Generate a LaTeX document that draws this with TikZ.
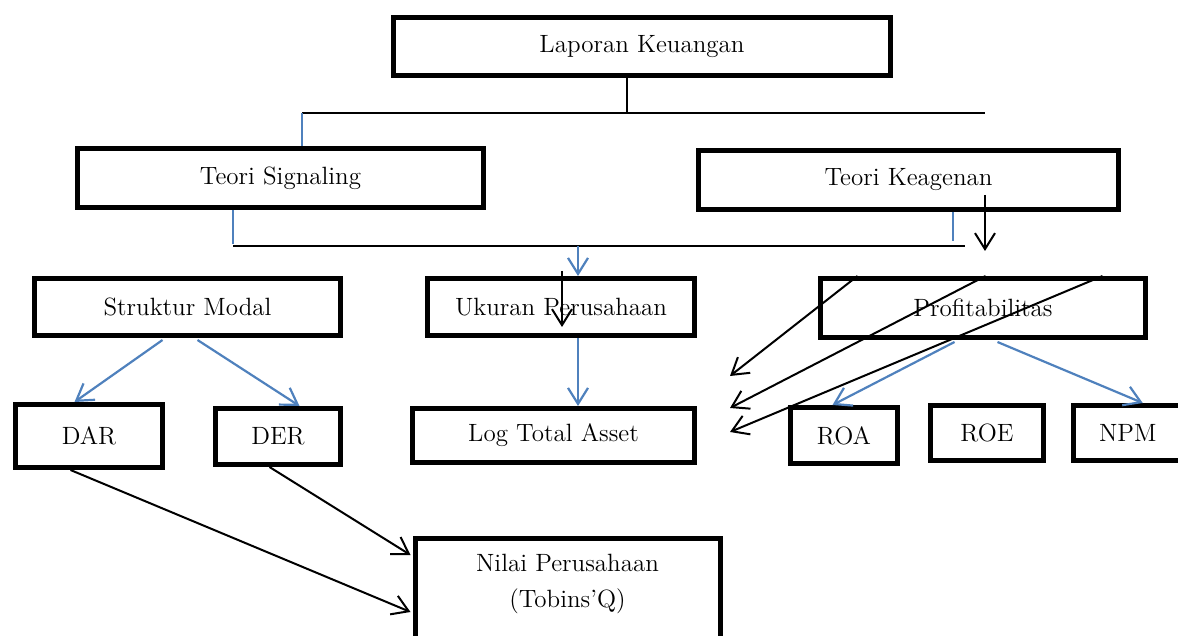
\documentclass[tikz,border=0pt]{standalone}
\usetikzlibrary{arrows.meta,calc}
\definecolor{lineblue}{RGB}{79,129,189}
\begin{document}
\begin{tikzpicture}[x=0.5pt,y=-0.5pt,
  box/.style={draw, line width=2.5pt, inner sep=0pt, font=\fontsize{12.5}{18}\selectfont},
  thinline/.style={draw, line width=1pt},
  blueline/.style={draw=lineblue, line width=1.1pt},
  bluearr/.style={draw=lineblue, line width=1.1pt, -{Straight Barb[length=8pt,width=10pt,line width=1.1pt]}},
  blackarr/.style={draw, line width=1pt, -{Straight Barb[length=8pt,width=10pt,line width=1pt]}}]
\useasboundingbox (0,0) rectangle (1178,636);
\clip (0,0) rectangle (1178,636);
% boxes
\node[box, minimum width=248.5pt, minimum height=29pt] (lk) at (642,46.5) {Laporan Keuangan};
\node[box, minimum width=203pt, minimum height=29.5pt] (ts) at (280.5,178) {Teori Signaling};
\node[box, minimum width=210pt, minimum height=29.5pt] (tk) at (908.5,180) {Teori Keagenan};
\node[box, minimum width=153pt, minimum height=28.5pt] (sm) at (187.5,307) {Struktur Modal};
\node[box, minimum width=133.5pt, minimum height=28.5pt] (up) at (561,307) {Ukuran Perusahaan};
\node[box, minimum width=162.5pt, minimum height=29.5pt] (pr) at (983,308) {Profitabilitas};
\node[box, minimum width=73.5pt, minimum height=31.5pt] (dar) at (89,436) {DAR};
\node[box, minimum width=62.5pt, minimum height=28pt] (der) at (278,436.5) {DER};
\node[box, minimum width=141pt, minimum height=27pt] (lta) at (553.5,435.5) {Log Total Asset};
\node[box, minimum width=53.5pt, minimum height=28pt] (roa) at (844,435.5) {ROA};
\node[box, minimum width=56.5pt, minimum height=27.5pt] (roe) at (987,433) {ROE};
\node[box, minimum width=54pt, minimum height=27.5pt] (npm) at (1127.75,433) {NPM};
\node[box, anchor=north west] (nilai) at (412.5,535.5)
  {\parbox[c][60pt][t]{152.5pt}{\centering\vspace{8pt}Nilai Perusahaan\\(Tobins’Q)}};
% bus lines
\coordinate (b1) at (627,113);
\coordinate (busL) at (302,113);
\coordinate (busR) at (985,113);
\draw[thinline] (b1 |- lk.south) -- (b1);
\draw[thinline] (busL) -- (busR);
\draw[blueline] (busL) -- (busL |- ts.north);
\coordinate (b2L) at (233,246);
\coordinate (b2R) at (965,246);
\coordinate (b2K) at (953,241);
\coordinate (b2M) at (578,246);
\draw[blueline] (b2L |- ts.south) -- (233,244);
\draw[blueline] (b2K |- tk.south) -- (b2K);
\draw[thinline] (b2L) -- (b2R);
\draw[bluearr] (b2M) -- (b2M |- up.north);
% black vertical arrows
\coordinate (k1) at (985,195);
\coordinate (k2) at (985,251);
\draw[blackarr] (k1) -- (k2);
\coordinate (u1) at (562,271);
\coordinate (u2) at (562,327);
\draw[blackarr] (u1) -- (u2);
% blue arrows
\draw[bluearr] ($(sm.south west)+(130.5,2)$) -- ($(dar.north west)+(61.5,0)$);
\draw[bluearr] ($(sm.south west)+(165.5,2)$) -- ($(der.north west)+(86.5,0)$);
\draw[bluearr] (b2M |- up.south) -- (b2M |- lta.north);
\draw[bluearr] ($(pr.south west)+(136.5,2)$) -- ($(roa.north west)+(44.5,0)$);
\draw[bluearr] ($(pr.south west)+(179.5,2)$) -- ($(npm.north west)+(71.5,0)$);
% black arrows from Profitabilitas
\coordinate (f1) at (730,376);
\coordinate (f2) at (730,408);
\coordinate (f3) at (730,432);
\draw[blackarr] ($(pr.north west)+(39.5,0)$) -- (f1);
\draw[blackarr] ($(pr.north west)+(167.5,0)$) -- (f2);
\draw[blackarr] ($(pr.north west)+(284.5,0)$) -- (f3);
% to Nilai Perusahaan
\draw[blackarr] ($(dar.south west)+(57.5,0)$) -- ($(nilai.north west)+(-2,76.5)$);
\draw[blackarr] ($(der.south west)+(56.5,0)$) -- ($(nilai.north west)+(-2,19.5)$);
\end{tikzpicture}
\end{document}
